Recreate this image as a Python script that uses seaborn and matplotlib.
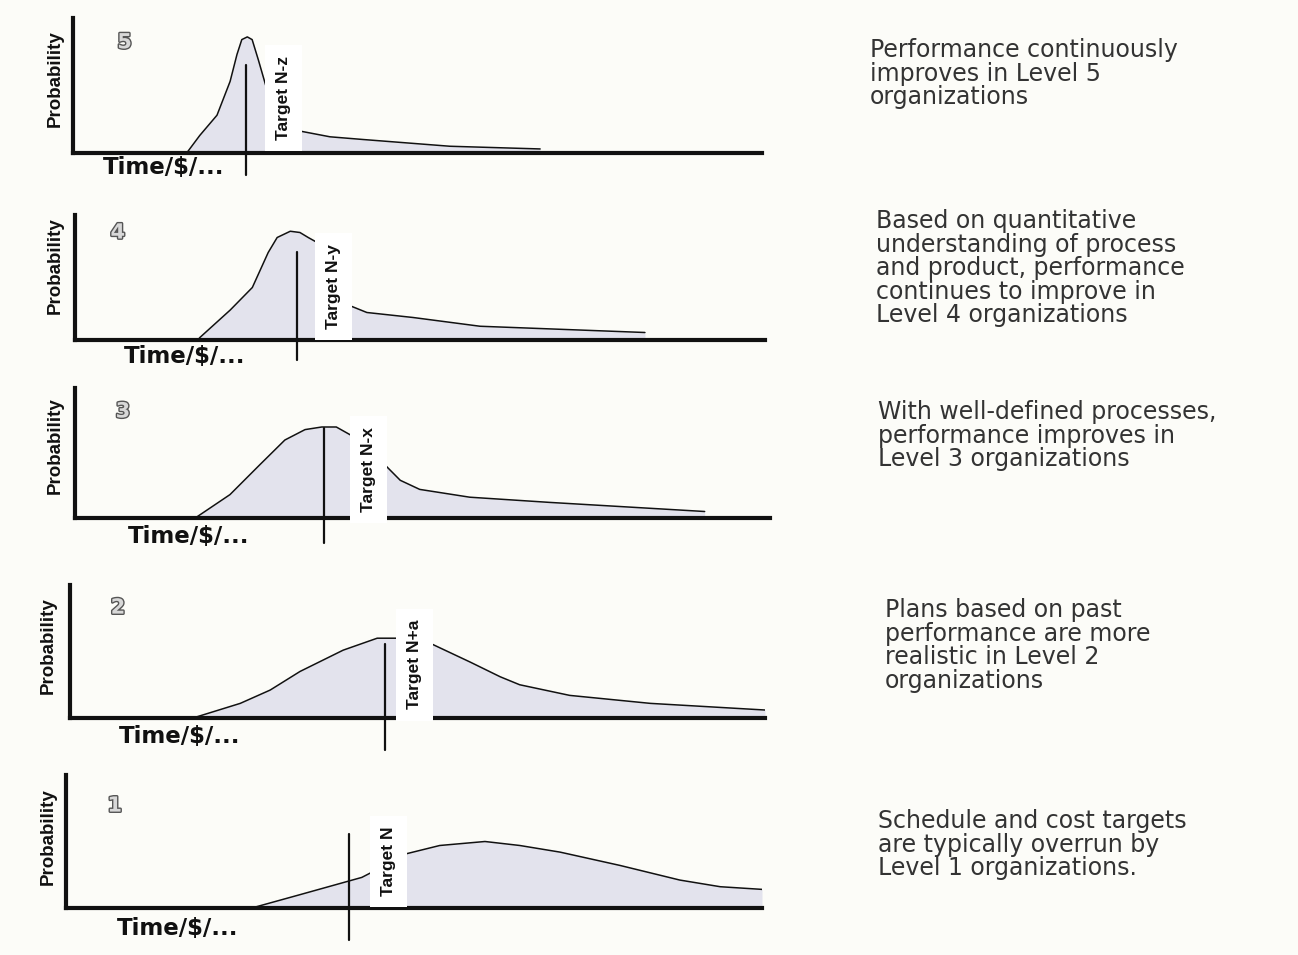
import matplotlib.pyplot as plt
import matplotlib.patheffects as pe
import seaborn as sns

# values
# x = time along the axis (0-100), y = probability (0-1 of the axis height)
LEVELS = [5, 4, 3, 2, 1]
TARGET_LABELS = ["Target N-z", "Target N-y", "Target N-x", "Target N+a", "Target N"]
DESCRIPTIONS = [
    "Performance continuously\nimproves in Level 5\norganizations",
    "Based on quantitative\nunderstanding of process\nand product, performance\ncontinues to improve in\nLevel 4 organizations",
    "With well-defined processes,\nperformance improves in\nLevel 3 organizations",
    "Plans based on past\nperformance are more\nrealistic in Level 2\norganizations",
    "Schedule and cost targets\nare typically overrun by\nLevel 1 organizations.",
]

L5_X = [16.5, 18.4, 20.9, 22.8, 23.8, 24.5, 25.3, 26.0, 26.9, 28.6, 30.8, 33.2, 37.3, 42.1, 54.7, 67.8]
L5_Y = [0.0, 0.13, 0.28, 0.53, 0.73, 0.84, 0.86, 0.84, 0.69, 0.39, 0.23, 0.16, 0.12, 0.10, 0.05, 0.03]

L4_X = [17.8, 18.1, 22.5, 25.7, 28.0, 29.3, 31.2, 32.6, 33.8, 35.1, 37.0, 38.7, 39.6, 42.3, 49.0, 58.7, 82.6]
L4_Y = [0.0, 0.02, 0.24, 0.42, 0.70, 0.82, 0.87, 0.86, 0.82, 0.78, 0.56, 0.36, 0.28, 0.22, 0.18, 0.11, 0.06]

L3_X = [17.3, 22.3, 26.6, 30.2, 33.1, 35.5, 37.6, 39.6, 41.7, 44.2, 46.8, 49.6, 56.8, 68.3, 90.6]
L3_Y = [0.0, 0.18, 0.41, 0.60, 0.68, 0.70, 0.70, 0.64, 0.52, 0.43, 0.29, 0.22, 0.16, 0.12, 0.05]

L2_X = [17.7, 24.5, 28.8, 33.1, 39.3, 44.2, 46.3, 48.9, 51.5, 57.6, 61.9, 64.7, 71.9, 83.5, 100.0]
L2_Y = [0.0, 0.11, 0.21, 0.35, 0.51, 0.60, 0.60, 0.60, 0.57, 0.42, 0.31, 0.25, 0.17, 0.11, 0.06]

L1_X = [26.7, 33.6, 42.5, 45.1, 48.3, 53.7, 60.2, 65.2, 71.0, 79.6, 88.2, 94.0, 100.0]
L1_Y = [0.0, 0.10, 0.23, 0.30, 0.40, 0.47, 0.50, 0.47, 0.42, 0.32, 0.21, 0.16, 0.14]

CURVES_X = [L5_X, L4_X, L3_X, L2_X, L1_X]
CURVES_Y = [L5_Y, L4_Y, L3_Y, L2_Y, L1_Y]

TARGET_X = [25.1, 32.2, 35.8, 45.3, 40.7]
TARGET_TOP = [0.65, 0.70, 0.69, 0.56, 0.56]

# layout (pixels of the 1298x955 picture)
W, H = 1298, 955
FRAMES = [(73, 762, 18, 153), (75, 765, 215, 340), (75, 770, 388, 518),
          (70, 765, 585, 718), (66, 762, 775, 908)]  # left, right, top, bottom
TARGET_DROP = [22, 20, 25, 32, 32]          # px the target line runs below the axis
LABEL_XY = [(30.6, 0.41), (37.5, 0.43), (42.2, 0.37), (49.6, 0.40), (46.3, 0.35)]
NUMBER_XY = [(7.5, 0.82), (6.2, 0.86), (6.9, 0.82), (6.9, 0.83), (7.0, 0.77)]
TIME_XY = [(13.1, 14), (15.9, 16), (16.4, 18), (15.8, 19), (16.1, 20)]
PROB_PX = [(55, 79), (55, 266), (55, 446), (48, 646), (48, 837)]
TEXT_PX = [(870, 38), (876, 209), (878, 400), (885, 598), (878, 809)]

FILL = "#e3e3ed"
INK = "#111111"

sns.set_theme(style="white")
plt.rcParams["font.family"] = ["DejaVu Sans"]

fig = plt.figure(figsize=(W / 100, H / 100), dpi=100, facecolor="#fcfcf8")

for i, lvl in enumerate(LEVELS):
    left, right, top, bottom = FRAMES[i]
    ax = fig.add_axes([left / W, 1 - bottom / H, (right - left) / W, (bottom - top) / H])
    ax.set_facecolor("none")
    ax.set_xlim(0, 100)
    ax.set_ylim(0, 1)

    xs, ys = CURVES_X[i], CURVES_Y[i]
    ax.fill_between(xs, ys, 0, color=FILL, lw=0, zorder=1)
    sns.lineplot(x=xs, y=ys, ax=ax, color=INK, linewidth=1.1, zorder=2)

    # target line, running a bit below the axis
    drop = TARGET_DROP[i] / (bottom - top)
    ax.plot([TARGET_X[i], TARGET_X[i]], [-drop, TARGET_TOP[i]], color=INK, lw=1.6,
            clip_on=False, zorder=3)

    lx, ly = LABEL_XY[i]
    ax.text(lx, ly, TARGET_LABELS[i], rotation=90, ha="center", va="center",
            fontsize=12.5, fontweight="bold", family="Liberation Sans", color=INK,
            bbox=dict(facecolor="white", edgecolor="none", pad=8), zorder=4)

    nx, ny = NUMBER_XY[i]
    ax.text(nx, ny, str(lvl), ha="center", va="center", fontsize=15, fontweight="bold",
            color="#d8d8d8", zorder=4,
            path_effects=[pe.withStroke(linewidth=2, foreground="#555555")])

    tx, toff = TIME_XY[i]
    ax.text(tx, -toff / (bottom - top), "Time/$/...", transform=ax.get_xaxis_transform(),
            ha="center", va="center", fontsize=16.5, fontweight="bold", color=INK)

    px, py = PROB_PX[i]
    fig.text(px / W, 1 - py / H, "Probability", rotation=90, ha="center", va="center",
             fontsize=13.5, fontweight="bold", family="Liberation Sans", color=INK)

    ax.set_xticks([])
    ax.set_yticks([])
    sns.despine(ax=ax)
    for side in ["left", "bottom"]:
        ax.spines[side].set_color(INK)
        ax.spines[side].set_linewidth(3)

    dx, dy = TEXT_PX[i]
    fig.text(dx / W, 1 - dy / H, DESCRIPTIONS[i], ha="left", va="top",
             fontsize=17, color="#333333", linespacing=0.98)

fig.savefig("out.png", dpi=100, facecolor=fig.get_facecolor())
